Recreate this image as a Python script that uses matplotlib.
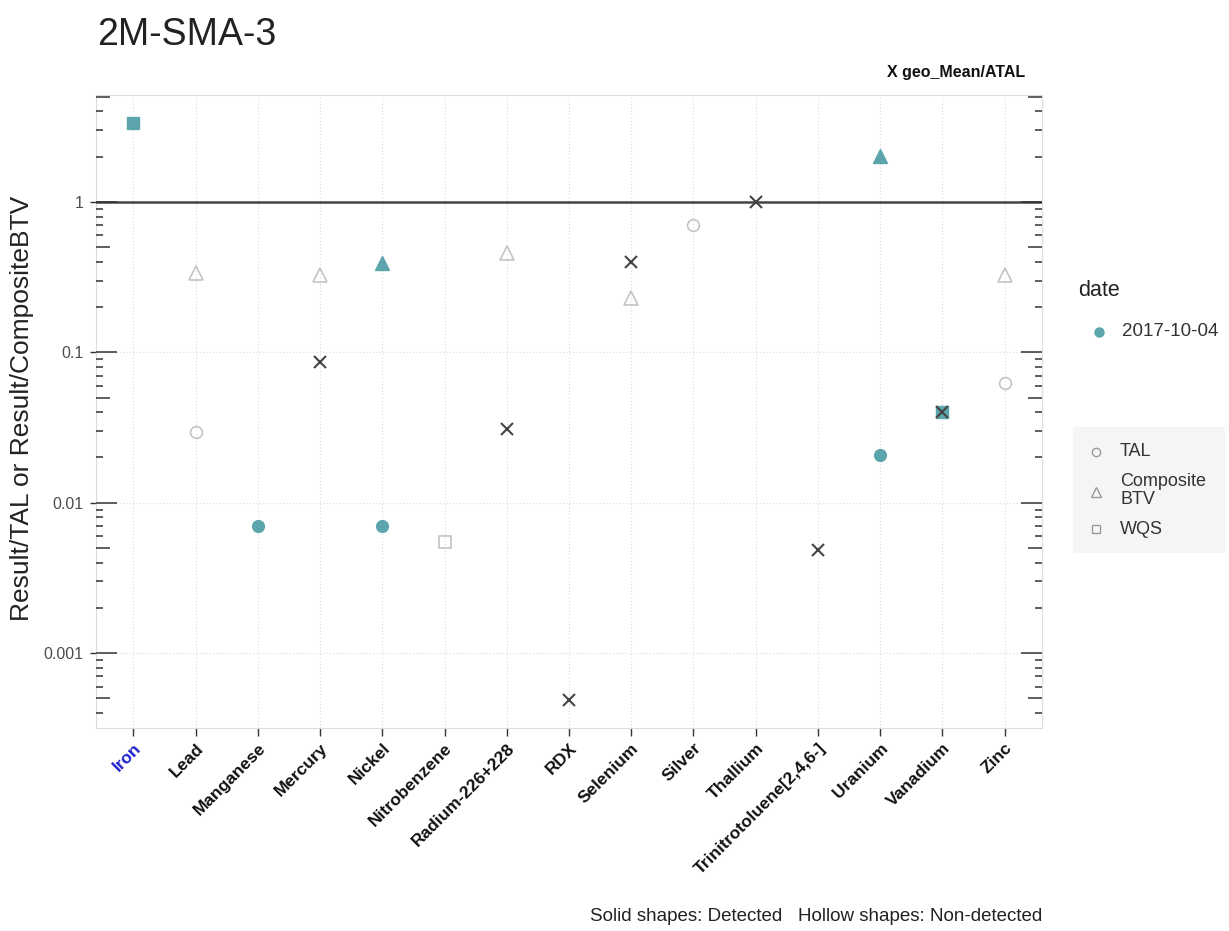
import numpy as np
import matplotlib
matplotlib.use('Agg')
import matplotlib.pyplot as plt
import matplotlib.transforms as mtransforms
from matplotlib.patches import Rectangle

plt.rcParams['font.family'] = ['Liberation Sans', 'DejaVu Sans']

categories = ["Iron", "Lead", "Manganese", "Mercury", "Nickel", "Nitrobenzene",
              "Radium-226+228", "RDX", "Selenium", "Silver", "Thallium",
              "Trinitrotoluene[2,4,6-]", "Uranium", "Vanadium", "Zinc"]

# TAL ratios (circle)
tal_analytes = ["Lead", "Manganese", "Nickel", "Silver", "Uranium", "Zinc"]
tal_values = [0.0296, 0.0070, 0.0070, 0.70, 0.0208, 0.0626]
tal_detected = [False, True, True, False, True, False]

# Composite BTV ratios (triangle)
btv_analytes = ["Lead", "Mercury", "Nickel", "Radium-226+228", "Selenium", "Uranium", "Zinc"]
btv_values = [0.337, 0.327, 0.395, 0.46, 0.230, 2.02, 0.327]
btv_detected = [False, False, True, False, False, True, False]

# WQS ratios (square)
wqs_analytes = ["Iron", "Nitrobenzene", "Vanadium"]
wqs_values = [3.37, 0.0055, 0.0403]
wqs_detected = [True, False, True]

# geo_Mean/ATAL (X)
geo_analytes = ["Mercury", "Radium-226+228", "RDX", "Selenium", "Thallium",
                "Trinitrotoluene[2,4,6-]", "Vanadium"]
geo_values = [0.0867, 0.031, 0.00049, 0.40, 1.0, 0.00485, 0.0403]

highlight_labels = ["Iron"]
y_ticks = [0.001, 0.01, 0.1, 1]
y_tick_labels = ["0.001", "0.01", "0.1", "1"]
date_label = "2017-10-04"

W, H = 1229, 931
fig = plt.figure(figsize=(W / 100, H / 100), dpi=100)
L, R, T, B = 96, 1042, 95, 728
ax = fig.add_axes([L / W, 1 - B / H, (R - L) / W, (B - T) / H])

solid_col = '#5DA5AD'
hollow_col = '#C4C4C4'
x_col = '#454545'

pos = {c: i + 1 for i, c in enumerate(categories)}

def draw(analytes, values, detected, marker, ms):
    for a, v, d in zip(analytes, values, detected):
        if d:
            ax.plot(pos[a], v, marker=marker, ms=ms, mfc=solid_col, mec=solid_col,
                    mew=1, ls='none', zorder=4)
        else:
            ax.plot(pos[a], v, marker=marker, ms=ms, mfc='none', mec=hollow_col,
                    mew=1.2, ls='none', zorder=4)

draw(tal_analytes, tal_values, tal_detected, 'o', 8.5)
draw(btv_analytes, btv_values, btv_detected, '^', 9.5)
draw(wqs_analytes, wqs_values, wqs_detected, 's', 8)
ax.plot([pos[a] for a in geo_analytes], geo_values, marker='x', ms=8, mew=1.5,
        color=x_col, ls='none', zorder=5)

ax.axhline(1, color='#444444', lw=1.8, zorder=3)

ax.set_yscale('log')
ax.set_ylim(0.000318, 5.14)
ax.set_xlim(0.4, 15.6)

ax.set_xticks(range(1, len(categories) + 1))
ax.set_xticklabels(categories, rotation=45, ha='right', va='top',
                   rotation_mode='anchor', fontsize=12.5, fontweight='bold')
for lab in ax.get_xticklabels():
    lab.set_color('#2020D0' if lab.get_text() in highlight_labels else '#111111')

ax.set_yticks(y_ticks)
ax.set_yticklabels(y_tick_labels, fontsize=11.5, color='#4D4D4D')
ax.yaxis.set_minor_locator(matplotlib.ticker.NullLocator())
ax.tick_params(axis='y', which='major', length=4, width=1, color='#333333', pad=5)
ax.tick_params(axis='x', which='major', length=6, width=1, color='#333333', pad=3)

# grid
for i in range(1, len(categories) + 1):
    ax.axvline(i, color='#DADADA', lw=0.8, ls=(0, (1, 2)), zorder=1)
for yt in y_ticks:
    ax.axhline(yt, color='#DADADA', lw=0.8, ls=(0, (1, 2)), zorder=1)

for s in ax.spines.values():
    s.set_color('#DCDCDC')
    s.set_linewidth(0.8)

# log ticks inside panel, both sides
px = 1.0 / (R - L)
trans = mtransforms.blended_transform_factory(ax.transAxes, ax.transData)
for k in range(-4, 1):
    for m in range(1, 10):
        v = m * 10.0 ** k
        if v < 0.000318 or v > 5.14:
            continue
        ln = 21 if m == 1 else (14 if m == 5 else 7)
        ax.plot([0, ln * px], [v, v], transform=trans, color='#333333', lw=1.1,
                clip_on=False, zorder=6, solid_capstyle='butt')
        ax.plot([1 - ln * px, 1], [v, v], transform=trans, color='#333333', lw=1.1,
                clip_on=False, zorder=6, solid_capstyle='butt')

# labels
fig.text(22 / W, 1 - 408 / H, 'Result/TAL or Result/CompositeBTV', rotation=90,
         ha='center', va='center', fontsize=19, color='#222222')
fig.text(97 / W, 1 - 45 / H, '2M-SMA-3', ha='left', va='baseline',
         fontsize=27, color='#222222')
fig.text(1025 / W, 1 - 77 / H, 'X geo_Mean/ATAL', ha='right', va='baseline',
         fontsize=11.5, fontweight='bold', color='#111111')
fig.text(1042 / W, 1 - 921 / H, 'Solid shapes: Detected   Hollow shapes: Non-detected',
         ha='right', va='baseline', fontsize=13.5, color='#222222')

# legends drawn on overlay in pixel coordinates
ov = fig.add_axes([0, 0, 1, 1], facecolor='none')
ov.set_xlim(0, W)
ov.set_ylim(H, 0)
ov.axis('off')

ov.text(1078, 290, 'date', ha='left', va='center', fontsize=15.5, color='#222222')
ov.plot(1099, 332, 'o', ms=6.5, mfc=solid_col, mec=solid_col)
ov.text(1122, 332, date_label, ha='left', va='center', fontsize=13.5, color='#333333')

ov.add_patch(Rectangle((1073, 427), 152, 126, facecolor='#F5F5F5', edgecolor='none'))
ov.plot(1096, 452, 'o', ms=6, mfc='none', mec='#9A9A9A', mew=1)
ov.text(1120, 452, 'TAL', ha='left', va='center', fontsize=13, color='#333333')
ov.plot(1096, 492, '^', ms=7, mfc='none', mec='#9A9A9A', mew=1)
ov.text(1120, 482, 'Composite', ha='left', va='center', fontsize=13, color='#333333')
ov.text(1120, 500, 'BTV', ha='left', va='center', fontsize=13, color='#333333')
ov.plot(1096, 529, 's', ms=5.5, mfc='none', mec='#9A9A9A', mew=1)
ov.text(1120, 529, 'WQS', ha='left', va='center', fontsize=13, color='#333333')

fig.savefig('out.png', dpi=100, facecolor='white')
